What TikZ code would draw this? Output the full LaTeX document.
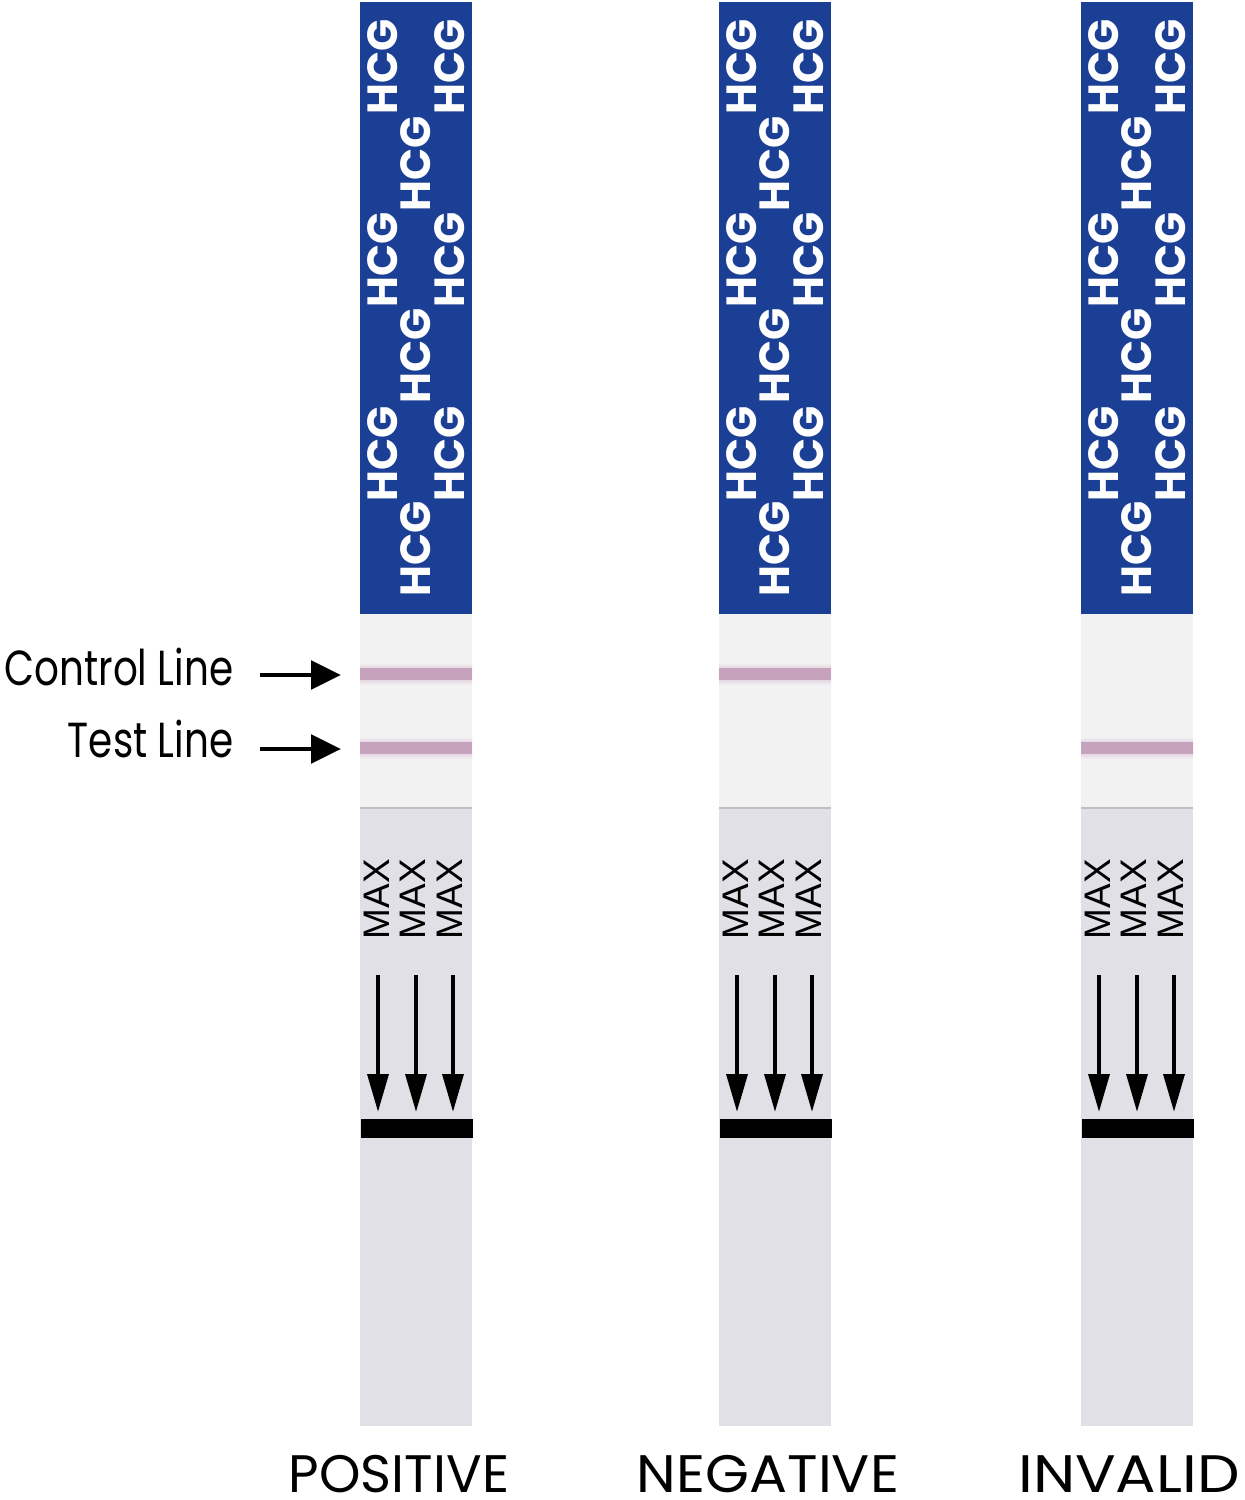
\documentclass[tikz,border=0pt]{standalone}
\usepackage{graphicx}
\usepackage{fontspec}
\setmainfont{Poppins}
\newfontfamily\maxfont{Liberation Sans}
\usetikzlibrary{arrows.meta}

\definecolor{stripblue}{RGB}{27,63,148}
\definecolor{window}{RGB}{242,242,242}
\definecolor{pad}{RGB}{224,224,230}
\definecolor{band}{RGB}{212,184,204}
\definecolor{bandcore}{RGB}{198,162,188}

\tikzset{
  hcg/.style={text=white, inner sep=0, rotate=90,
    font=\fontsize{12}{12}\selectfont\bfseries},
  maxtext/.style={inner sep=0, rotate=90,
    font=\maxfont\fontsize{10.5}{10.5}\selectfont},
  flow/.style={line width=1.2pt, -{Triangle[length=10.8pt,width=5.9pt]},
    shorten >=0.06cm},
  bar/.style={fill=black, inner sep=0, minimum width=1.12cm,
    minimum height=0.19cm},
  callout/.style={inner sep=0, font=\fontsize{14}{14}\selectfont},
  pointer/.style={line width=1.4pt, -{Triangle[length=8.5pt,width=8pt]},
    shorten <=0.26cm},
  result/.style={inner sep=0, font=\fontsize{15}{15}\selectfont},
}

\begin{document}
\begin{tikzpicture}[x=0.01cm, y=-0.01cm]
\useasboundingbox (0,0) rectangle (1244,1500);

\foreach \s/\x/\ctl/\tst/\name/\lx/\sx in
  {pos/360/1/1/POSITIVE/399/1, neg/719/1/0/NEGATIVE/768/1.07,
   inv/1081/0/1/INVALID/1129/1.14}{
  % strip body
  \fill[stripblue] (\x,2) rectangle ++(112,612);
  \fill[window] (\x,614) rectangle ++(112,194);
  \fill[pad] (\x,808) rectangle ++(112,618);
  \draw[black!25, line width=0.4pt] (\x,808) -- ++(112,0);

  % HCG print
  \foreach \yy in {67,260,454}{
    \node[hcg] (hl-\s-\yy) at (\x+23,\yy) {HCG};
    \node[hcg] (hr-\s-\yy) at (\x+90,\yy) {HCG};
  }
  \foreach \yy in {164,356,549}
    \node[hcg] (hm-\s-\yy) at (\x+56,\yy) {HCG};

  % result bands
  \ifnum\ctl=1
    \fill[top color=window, bottom color=window, middle color=band]
      (\x,663) rectangle ++(112,22);
    \fill[bandcore] (\x,668) rectangle ++(112,12);
  \fi
  \ifnum\tst=1
    \fill[top color=window, bottom color=window, middle color=band]
      (\x,737) rectangle ++(112,22);
    \fill[bandcore] (\x,742) rectangle ++(112,12);
  \fi

  % MAX mark and arrows
  \node[bar, anchor=north west] (bar-\s) at (\x,1118) {};
  \foreach \k/\mx/\ax in {1/17/18, 2/53/56, 3/90/93}{
    \node[maxtext] (max-\s-\k) at (\x+\mx,899) {MAX};
    \coordinate (a-\s-\k) at (\x+\ax,975);
    \draw[flow] (a-\s-\k) -- (a-\s-\k |- bar-\s.north);
  }

  \node[result, anchor=base] (res-\s) at (\lx,1492) {\scalebox{\sx}[1]{\name}};
}

% callouts
\coordinate (c-ctl) at (341,675);
\coordinate (c-tst) at (341,749);
\node[callout, anchor=base east] (ctl) at (234,685) {\scalebox{0.79}[1]{Control Line}};
\node[callout, anchor=base east] (tst) at (234,757) {\scalebox{0.79}[1]{Test Line}};
\draw[pointer] (ctl.east |- c-ctl) -- (c-ctl);
\draw[pointer] (tst.east |- c-tst) -- (c-tst);
\end{tikzpicture}
\end{document}
